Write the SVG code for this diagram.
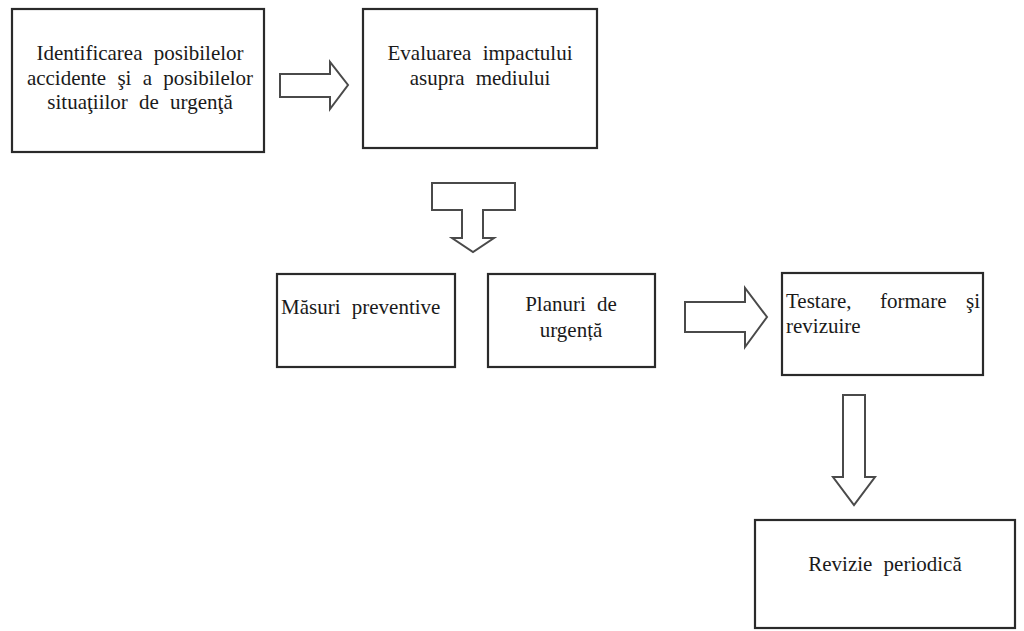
<svg xmlns="http://www.w3.org/2000/svg" width="1024" height="631" viewBox="0 0 1024 631">
<style>
.box{fill:#fff;stroke:#2a2a2a;stroke-width:2.2}
.arr{fill:#fff;stroke:#4a4a4a;stroke-width:2;stroke-linejoin:miter}
.t{font-size:21px;fill:#1a1a1a;word-spacing:6px}
.c{text-anchor:middle}
</style>
<rect width="1024" height="631" fill="#fff"/>
<g id="connectors">
<path class="arr" d="M280,74 H330 V62 L348,85 L330,109 V97 H280 Z"/>
<path class="arr" d="M432,183 H515 V210 H483 V238 H494 L473,252 L452,238 H462 V210 H432 Z"/>
<path class="arr" d="M685,302 H745 V288 L767,317 L745,347 V332 H685 Z"/>
<path class="arr" d="M843,395 H865 V477 H875 L854,505 L833,477 H843 Z"/>
</g>
<g font-family="Liberation Serif, DejaVu Serif, serif">
<g id="n1">
<rect class="box" x="12" y="9" width="252" height="143"/>
<text class="t c" x="140" y="60">Identificarea posibilelor</text>
<text class="t c" x="140" y="85">accidente şi a posibilelor</text>
<text class="t c" x="140" y="109">situaţiilor de urgenţă</text>
</g>
<g id="n2">
<rect class="box" x="363" y="9" width="234" height="139"/>
<text class="t c" x="480" y="60">Evaluarea impactului</text>
<text class="t c" x="480" y="85">asupra mediului</text>
</g>
<g id="n3">
<rect class="box" x="277" y="274" width="178" height="93"/>
<text class="t" x="281" y="314">Măsuri preventive</text>
</g>
<g id="n4">
<rect class="box" x="488" y="274" width="167" height="93"/>
<text class="t c" x="571" y="311">Planuri de</text>
<text class="t c" x="571" y="337">urgență</text>
</g>
<g id="n5">
<rect class="box" x="782" y="273" width="201" height="102"/>
<text class="t" x="786" y="308">Testare,</text>
<text class="t" x="880" y="308">formare</text>
<text class="t" x="980" y="308" text-anchor="end">şi</text>
<text class="t" x="786" y="333">revizuire</text>
</g>
<g id="n6">
<rect class="box" x="755" y="520" width="260" height="108"/>
<text class="t c" x="885" y="571">Revizie periodică</text>
</g>
</g>
</svg>
